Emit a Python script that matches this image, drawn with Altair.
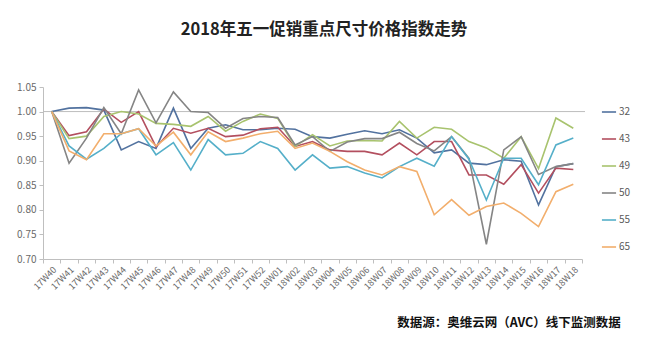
import altair as alt
import pandas as pd

weeks = ["17W40", "17W41", "17W42", "17W43", "17W44", "17W45", "17W46", "17W47",
         "17W48", "17W49", "17W50", "17W51", "17W52", "18W01", "18W02", "18W03",
         "18W04", "18W05", "18W06", "18W07", "18W08", "18W09", "18W10", "18W11",
         "18W12", "18W13", "18W14", "18W15", "18W16", "18W17", "18W18"]

s32 = [1.000, 1.007, 1.008, 1.003, 0.922, 0.939, 0.925, 1.007, 0.925, 0.966, 0.973,
       0.963, 0.963, 0.966, 0.964, 0.949, 0.946, 0.954, 0.961, 0.955, 0.963, 0.946,
       0.916, 0.922, 0.895, 0.892, 0.902, 0.899, 0.810, 0.888, 0.894]
s43 = [1.000, 0.951, 0.959, 1.005, 0.978, 1.000, 0.928, 0.966, 0.956, 0.966, 0.949,
       0.952, 0.965, 0.968, 0.929, 0.939, 0.922, 0.919, 0.919, 0.912, 0.936, 0.912,
       0.939, 0.939, 0.871, 0.871, 0.852, 0.892, 0.834, 0.885, 0.882]
s49 = [1.000, 0.945, 0.950, 0.990, 1.000, 0.995, 0.976, 0.974, 0.970, 0.990, 0.960,
       0.980, 0.995, 0.986, 0.929, 0.953, 0.930, 0.940, 0.941, 0.940, 0.980, 0.946,
       0.968, 0.964, 0.939, 0.926, 0.905, 0.949, 0.884, 0.987, 0.966]
s50 = [1.000, 0.895, 0.946, 1.008, 0.955, 1.044, 0.977, 1.040, 1.000, 0.998, 0.966,
       0.986, 0.990, 0.988, 0.932, 0.949, 0.919, 0.938, 0.945, 0.945, 0.958, 0.935,
       0.920, 0.949, 0.905, 0.730, 0.922, 0.949, 0.872, 0.888, 0.894]
s55 = [1.000, 0.930, 0.903, 0.925, 0.955, 0.965, 0.912, 0.937, 0.881, 0.943, 0.912,
       0.915, 0.939, 0.925, 0.881, 0.912, 0.885, 0.888, 0.875, 0.865, 0.888, 0.905,
       0.889, 0.949, 0.903, 0.820, 0.905, 0.905, 0.851, 0.932, 0.946]
s65 = [1.000, 0.920, 0.902, 0.955, 0.955, 0.965, 0.930, 0.958, 0.912, 0.959, 0.939,
       0.946, 0.955, 0.960, 0.925, 0.936, 0.919, 0.898, 0.881, 0.871, 0.888, 0.878,
       0.790, 0.821, 0.789, 0.807, 0.814, 0.793, 0.766, 0.837, 0.852]

series_names = ["32", "43", "49", "50", "55", "65"]
series_values = [s32, s43, s49, s50, s55, s65]
colors = ["#52729f", "#b34f5f", "#a8c36e", "#858585", "#55afc9", "#f2ae6c"]
y_ticks = [0.70, 0.75, 0.80, 0.85, 0.90, 0.95, 1.00, 1.05]

title_text = "2018年五一促销重点尺寸价格指数走势"
source_text = "数据源：奥维云网（AVC）线下监测数据"

rows = []
for name, vals in zip(series_names, series_values):
    for w, v in zip(weeks, vals):
        rows.append({"week": w, "size": name, "value": v})
df = pd.DataFrame(rows)

FONT = "Noto Sans CJK SC"

y_scale = alt.Scale(domain=[0.70, 1.05], nice=False, zero=False)
y_axis = alt.Axis(
    title=None, values=y_ticks, format=".2f", labelFontSize=10,
    labelColor="#6a6a6a", labelFont=FONT, domainColor="#bfbfbf",
    tickColor="#bfbfbf", tickSize=4, labelPadding=3, grid=False,
    labelOverlap=False, tickCount=8,
)

x_enc = alt.X(
    "week:N",
    sort=weeks,
    scale=alt.Scale(type="band", domain=weeks, paddingInner=0, paddingOuter=0),
    bandPosition=0.5,
    axis=alt.Axis(
        title=None, labelAngle=-45, tickBand="extent", labelFontSize=9,
        labelColor="#6a6a6a", labelFont=FONT, domainColor="#bfbfbf",
        tickColor="#bfbfbf", tickSize=4, labelPadding=2, grid=False,
        labelOverlap=False,
    ),
)

ref_df = pd.DataFrame({"value": [1.0]})
ref = alt.Chart(ref_df).mark_rule(color="#bdbdbd", strokeWidth=1).encode(
    y=alt.Y("value:Q", scale=y_scale, axis=y_axis),
    x=alt.value(0), x2=alt.value(542),
)

lines = alt.Chart(df).mark_line(strokeWidth=1.6).encode(
    x=x_enc,
    y=alt.Y("value:Q", scale=y_scale, axis=y_axis),
    color=alt.Color(
        "size:N",
        scale=alt.Scale(domain=series_names, range=colors),
        legend=alt.Legend(
            title=None, orient="none", legendX=558, legendY=17,
            symbolType="stroke", symbolSize=200, symbolStrokeWidth=1.6,
            labelFontSize=10, labelFont=FONT, labelColor="#595959",
            rowPadding=14, labelOffset=2,
        ),
    ),
    order=alt.Order("size:N"),
)

title_df = pd.DataFrame({"t": [title_text]})
title = alt.Chart(title_df).mark_text(
    font=FONT, fontSize=16.5, fontWeight="bold", color="#222222",
    align="center", baseline="middle",
).encode(text="t:N", x=alt.value(281), y=alt.value(-57))

src_df = pd.DataFrame({"t": [source_text]})
source = alt.Chart(src_df).mark_text(
    font=FONT, fontSize=12.5, fontWeight="bold", color="#111111",
    align="center", baseline="middle",
).encode(text="t:N", x=alt.value(466), y=alt.value(236))

chart = alt.layer(ref, lines, title, source).properties(
    width=539, height=172,
    padding={"left": 43, "top": 87, "right": 67, "bottom": 94},
    autosize="none",
    background="white",
).configure_view(stroke=None)

chart.save("out.html", embed_options={"renderer": "svg", "actions": False})
